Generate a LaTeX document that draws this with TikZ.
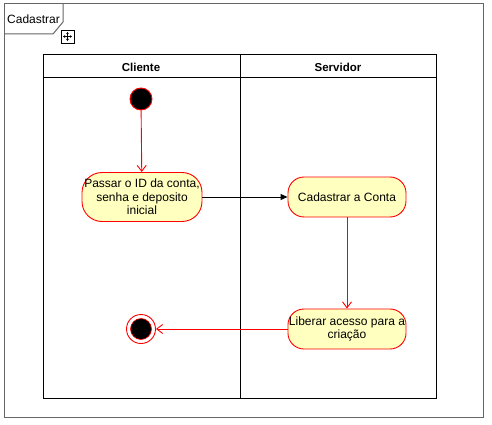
\documentclass[tikz,border=0pt]{standalone}
\usepackage{fontspec}
\setmainfont{Liberation Sans}
\usetikzlibrary{arrows.meta}
\definecolor{actfill}{HTML}{FFFFC0}
\definecolor{framegray}{HTML}{666666}

\begin{document}
\begin{tikzpicture}[x=1pt,y=-1pt,
    font=\fontsize{12}{13.5}\selectfont,
    activity/.style={draw=red,fill=actfill,rounded corners=16pt,align=center,
      minimum width=119pt,inner sep=1pt,line width=0.9pt},
    flow/.style={draw=red,line width=0.9pt,-{Straight Barb[length=6pt,width=9pt]}},
    flowblack/.style={draw=black,line width=0.9pt,-{Triangle[length=7pt,width=6pt]}}]
    \useasboundingbox (0,0) rectangle (492,425);
    % outer frame
    \draw[framegray,line width=1pt] (4,4) rectangle (483,417);
    \draw[framegray,line width=1pt] (4,34) -- (53,34) -- (63,22) -- (63,4);
    \node[anchor=west,inner sep=0pt] (frame) at (7,19) {Cadastrar};
    % move icon
    \draw[line width=0.6pt] (61,30) rectangle (74,43);
    \draw[line width=0.6pt,{Triangle[length=2pt,width=2.5pt]}-{Triangle[length=2pt,width=2.5pt]}] (63,36.5) -- (72,36.5);
    \draw[line width=0.6pt,{Triangle[length=2pt,width=2.5pt]}-{Triangle[length=2pt,width=2.5pt]}] (67.5,32) -- (67.5,41);
    % swimlanes
    \draw[line width=1pt] (43,55) rectangle (436,398);
    \draw[line width=1pt] (43,78) -- (436,78);
    \draw[line width=1pt] (240,55) -- (240,398);
    \node[font=\fontsize{11.5}{13}\selectfont\bfseries] (cliente) at (141,67) {Cliente};
    \node[font=\fontsize{11.5}{13}\selectfont\bfseries] (servidor) at (338,67) {Servidor};
    % nodes
    \node[circle,draw=red,fill=black,minimum size=22pt,inner sep=0pt,line width=0.9pt] (start) at (141,99) {};
    \node[activity,minimum height=49pt,minimum width=120pt,rounded corners=20pt] (passar) at (142,197) {Passar o ID da conta,\\senha e deposito\\inicial};
    \node[activity,minimum height=40pt,minimum width=118pt] (cadastrar) at (347,197) {Cadastrar a Conta};
    \node[activity,minimum height=40pt,minimum width=118pt] (liberar) at (347,329) {Liberar acesso para a\\cria\c{c}\~ao};
    \node[circle,draw=red,fill=white,minimum size=29pt,inner sep=0pt,line width=0.9pt] (fim) at (141,329) {};
    \node[circle,draw=red,fill=black,minimum size=21pt,inner sep=0pt,line width=0.6pt] (fimin) at (141,329) {};
    % edges
    \draw[flow] (start) -- (passar);
    \draw[flowblack] (passar) -- (cadastrar);
    \draw[flow] (cadastrar) -- (liberar);
    \draw[flow] (liberar) -- (fim);
\end{tikzpicture}
\end{document}
